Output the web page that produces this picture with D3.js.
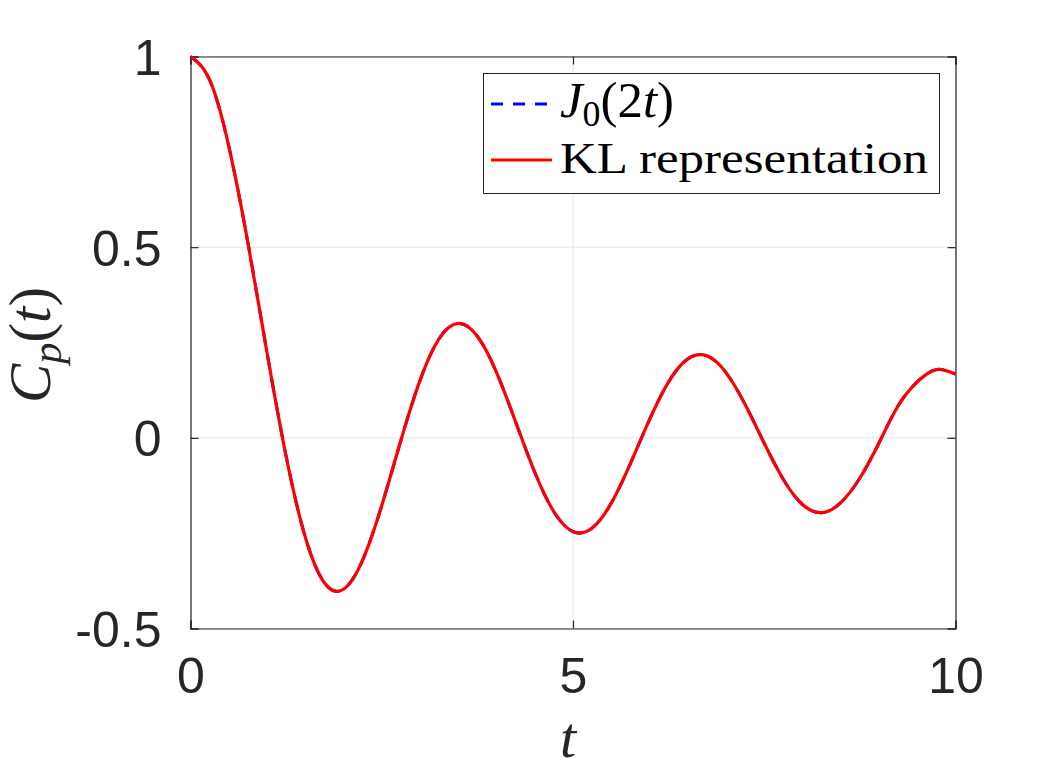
<!DOCTYPE html>
<html><head><meta charset="utf-8">
<script src="https://cdn.jsdelivr.net/npm/d3@7"></script>
<style>body{margin:0;background:#fff}</style>
</head><body>
<script>
// t samples (step 0.25) and values (J0(2t) curve)
const tValues = [0,0.25,0.5,0.75,1,1.25,1.5,1.75,2,2.25,2.5,2.75,3,3.25,3.5,3.75,4,4.25,4.5,4.75,5,5.25,5.5,5.75,6,6.25,6.5,6.75,7,7.25,7.5,7.75,8,8.25,8.5,8.75,9,9.25,9.5,9.75,10];
const besselValues = [1,0.9385,0.7652,0.5118,0.2239,-0.0484,-0.2601,-0.3801,-0.3971,-0.3205,-0.1776,-0.0068,0.1506,0.2601,0.3001,0.2663,0.1717,0.0419,-0.0903,-0.1939,-0.2459,-0.2366,-0.1712,-0.0677,0.0477,0.1469,0.2069,0.2150,0.1711,0.0875,-0.0142,-0.1092,-0.1749,-0.1964,-0.1699,-0.1054,-0.0134,0.0841,0.1466,0.1789,0.1670];
const klValues = besselValues.slice();
const xTicks = [0,5,10];
const yTicks = [-0.5,0,0.5,1];
const yTickLabels = ["-0.5","0","0.5","1"];

const W=1057,H=778;
const L=190.5,R=955.5,T=56.5,B=628.5;
const svg=d3.select("body").append("svg").attr("width",W).attr("height",H);
const x=d3.scaleLinear().domain([0,10]).range([L,R]);
const y=d3.scaleLinear().domain([-0.5,1]).range([B,T]);
const axisCol="#262626";

// grid
svg.append("g").selectAll("line").data(xTicks).join("line")
  .attr("x1",d=>x(d)).attr("x2",d=>x(d)).attr("y1",T).attr("y2",B)
  .attr("stroke","#e3e3e3").attr("stroke-width",1);
svg.append("g").selectAll("line").data(yTicks).join("line")
  .attr("y1",d=>y(d)).attr("y2",d=>y(d)).attr("x1",L).attr("x2",R)
  .attr("stroke","#e3e3e3").attr("stroke-width",1);

// axes via d3 axis (inward ticks)
const fmtY=d=>yTickLabels[yTicks.indexOf(d)];
const ax=svg.append("g").attr("transform",`translate(0,${B})`)
  .call(d3.axisBottom(x).tickValues(xTicks).tickSize(-8).tickPadding(29).tickFormat(d3.format("d")));
const ay=svg.append("g").attr("transform",`translate(${L},0)`)
  .call(d3.axisLeft(y).tickValues(yTicks).tickSize(-8).tickPadding(29).tickFormat(fmtY));
const at=svg.append("g").attr("transform",`translate(0,${T})`)
  .call(d3.axisTop(x).tickValues(xTicks).tickSize(-8).tickFormat(""));
const ar=svg.append("g").attr("transform",`translate(${R},0)`)
  .call(d3.axisRight(y).tickValues(yTicks).tickSize(-8).tickFormat(""));
[ax,ay,at,ar].forEach(g=>{
  g.selectAll("path").attr("stroke",axisCol).attr("stroke-width",1.2);
  g.selectAll("line").attr("stroke",axisCol).attr("stroke-width",1.2);
  g.selectAll("text").attr("fill",axisCol).attr("font-family","Liberation Sans, Arial, sans-serif").attr("font-size",50);
});
ay.selectAll("text").attr("dy","0.36em");
ax.selectAll("text").attr("dy","0.71em");

// lines
const line=d3.line().x((d,i)=>x(tValues[i])).y(d=>y(d)).curve(d3.curveNatural);
svg.append("path").datum(besselValues).attr("d",line).attr("fill","none")
  .attr("stroke","#0000ff").attr("stroke-width",3).attr("stroke-dasharray","14,10");
svg.append("path").datum(klValues).attr("d",line).attr("fill","none")
  .attr("stroke","#ff0000").attr("stroke-width",3.2);

const serif="Liberation Serif, Times New Roman, serif";
function fitWidth(g, text, target){
  const w=text.node().getBBox().width;
  return target/w;
}

// legend
const lg=svg.append("g");
lg.append("rect").attr("x",483.5).attr("y",73.5).attr("width",456).attr("height",120)
  .attr("fill","#fff").attr("stroke",axisCol).attr("stroke-width",1);
lg.append("line").attr("x1",491).attr("x2",552).attr("y1",104).attr("y2",104)
  .attr("stroke","#0000ff").attr("stroke-width",3).attr("stroke-dasharray","12,10");
lg.append("line").attr("x1",491).attr("x2",552).attr("y1",160).attr("y2",160)
  .attr("stroke","#ff0000").attr("stroke-width",3);
const g1=lg.append("g");
const t1=g1.append("text").attr("x",0).attr("y",0).attr("font-family",serif).attr("font-size",44).attr("fill","#000");
t1.append("tspan").attr("font-style","italic").text("J");
t1.append("tspan").attr("font-size",31).attr("dy",8).text("0");
t1.append("tspan").attr("dy",-8).text("(2");
t1.append("tspan").attr("font-style","italic").text("t");
t1.append("tspan").text(")");
const s1=fitWidth(g1,t1,114);
g1.attr("transform",`translate(560,117) scale(${s1})`);
lg.append("text").attr("x",560).attr("y",173).attr("font-family",serif).attr("font-size",45)
  .attr("fill","#000").attr("textLength",368).attr("lengthAdjust","spacingAndGlyphs").text("KL representation");

// axis labels
svg.append("text").attr("x",568).attr("y",757).attr("text-anchor","middle")
  .attr("font-family",serif).attr("font-style","italic").attr("font-size",58).attr("fill",axisCol).text("t");
const g2=svg.append("g");
const yl=g2.append("text").attr("x",0).attr("y",0).attr("text-anchor","middle")
  .attr("font-family",serif).attr("font-size",50).attr("fill",axisCol);
yl.append("tspan").attr("font-style","italic").text("C");
yl.append("tspan").attr("font-style","italic").attr("font-size",36).attr("dy",9).text("p");
yl.append("tspan").attr("dy",-9).text("(");
yl.append("tspan").attr("font-style","italic").text("t");
yl.append("tspan").text(")");
const s2=fitWidth(g2,yl,116);
g2.attr("transform",`translate(50,345) rotate(-90) scale(${s2})`);
</script>
</body></html>
